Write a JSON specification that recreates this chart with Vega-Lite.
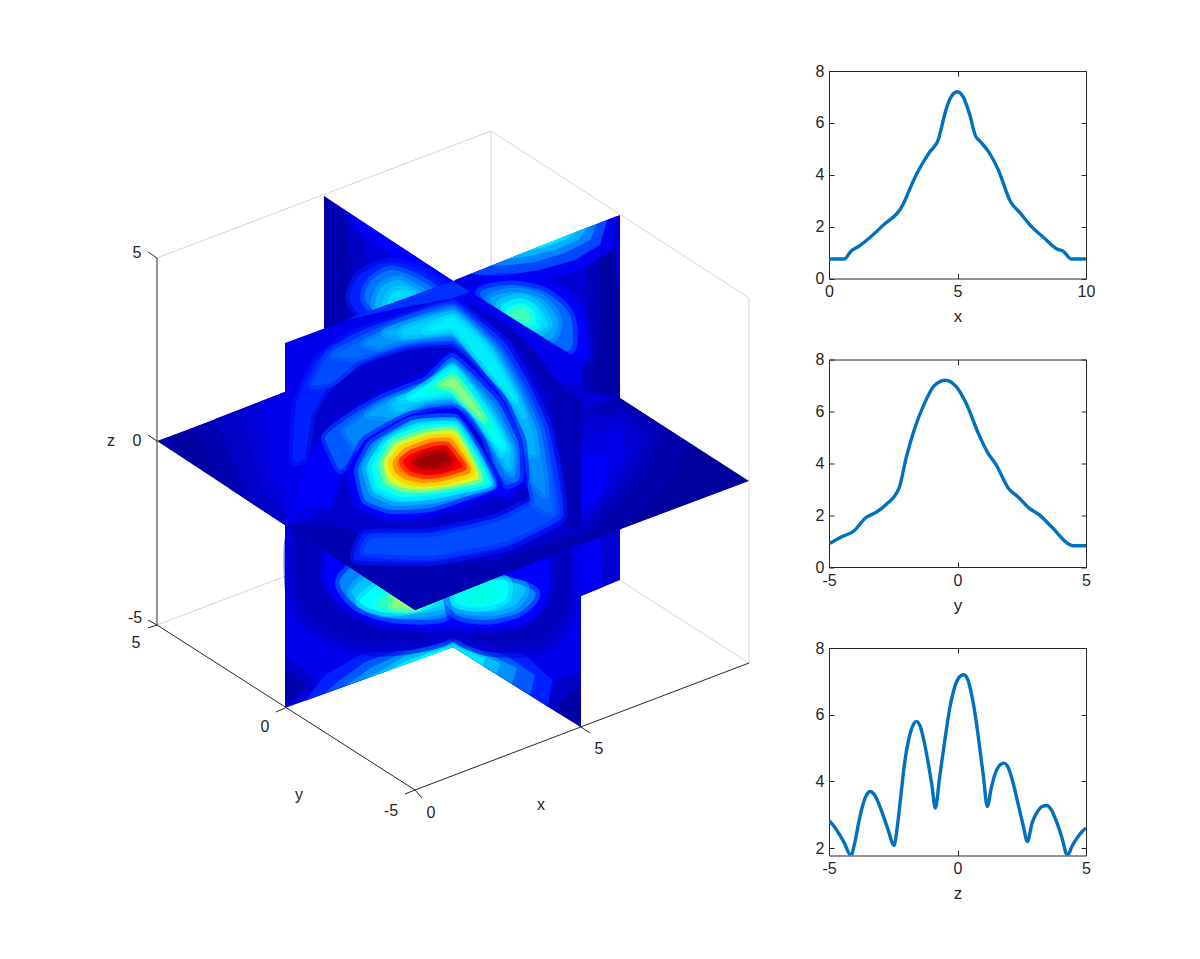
{
"$schema":"https://vega.github.io/schema/vega-lite/v6.json",
"background":"white",
"padding":{"left":0,"top":63,"right":0,"bottom":0},
"spacing":69,"bounds":"flush",
"config":{"view":{"stroke":null}},
"datasets":{
"frame":[
{"id":"g1","k":"g","u":[157,491],"v":[258,131]},
{"id":"g2","k":"g","u":[491,749],"v":[131,298]},
{"id":"g3","k":"g","u":[749,749],"v":[298,663]},
{"id":"g4","k":"g","u":[491,491],"v":[131,498]},
{"id":"g5","k":"g","u":[157,491],"v":[625,498]},
{"id":"g6","k":"g","u":[491,749],"v":[498,663]},
{"id":"a1","k":"a","u":[157,157],"v":[258,625]},
{"id":"a2","k":"a","u":[157,415],"v":[625,790]},
{"id":"a3","k":"a","u":[415,749],"v":[790,663]},
{"id":"t1","k":"a","u":[157,148],"v":[258,252]},
{"id":"t2","k":"a","u":[157,148],"v":[441,435]},
{"id":"t3","k":"a","u":[157,148],"v":[625,620]},
{"id":"t4","k":"a","u":[157,148],"v":[625,628]},
{"id":"t5","k":"a","u":[285,276],"v":[708,712]},
{"id":"t6","k":"a","u":[415,405],"v":[790,794]},
{"id":"t7","k":"a","u":[415,422],"v":[790,798]},
{"id":"t8","k":"a","u":[581,590],"v":[727,733]}
],
"labels":[
{"t":"5","u":137,"v":253},{"t":"0","u":137,"v":441},{"t":"-5","u":135,"v":618},
{"t":"5","u":136,"v":643},{"t":"0","u":265,"v":727},{"t":"-5","u":391,"v":811},
{"t":"0","u":431,"v":813},{"t":"5","u":599,"v":749},
{"t":"x","u":541,"v":805},{"t":"y","u":299,"v":795},{"t":"z","u":111,"v":441}
],
"shapes":[
{"id":"l1","g":1,"c":0.55,"u":[453,620,620,581,453],"v":[464,398,580,596,647]},
{"id":"l2","g":1,"c":0.8,"u":[581,600,603,581],"v":[530,530,587,596]},
{"id":"l3","g":1,"c":0.75,"u":[285,453,453,285],"v":[525,464,647,708]},
{"id":"l4","g":1,"c":0.75,"u":[453,581,581,453],"v":[464,544,727,647]},
{"id":"l5a","g":1,"c":0.5,"u":[285,318,305,285],"v":[655,682,697,708]},
{"id":"l5","g":1,"c":0.25,"u":[285,307,295,285],"v":[668,685,697,704]},
{"id":"l6a","g":1,"c":0.45,"u":[581,581,545,558],"v":[672,727,705,680]},
{"id":"l6","g":1,"c":0.2,"u":[581,581,555,568],"v":[688,727,711,695]},
{"id":"l7","g":1,"c":0.95,"u":[305,453,453,410,360,325],"v":[701,647,635,642,655,675]},
{"id":"l7b","g":1,"c":1.2,"u":[325,453,453,405,365,340],"v":[693,647,638,648,662,680]},
{"id":"l8","g":1,"c":1.6,"u":[345,453,453,405,372],"v":[686,647,641,652,667]},
{"id":"l9","g":1,"c":2.0,"u":[365,453,453,405,382],"v":[679,647,643,656,670]},
{"id":"l10","g":1,"c":2.4,"u":[385,453,453,410],"v":[672,647,645,659]},
{"id":"l10b","g":1,"c":2.8,"u":[410,453,425],"v":[663,647,655]},
{"id":"l11","g":1,"c":0.95,"u":[453,548,552,525,490,453],"v":[647,707,680,655,645,635]},
{"id":"l11b","g":1,"c":1.2,"u":[453,530,535,505,453],"v":[647,695,675,655,638]},
{"id":"l12","g":1,"c":1.6,"u":[453,512,517,490,453],"v":[647,684,668,655,641]},
{"id":"l13","g":1,"c":2.0,"u":[453,497,500,478,453],"v":[647,674,663,653,643]},
{"id":"l14","g":1,"c":2.4,"u":[453,483,485,453],"v":[647,666,658,645]},
{"id":"d0","g":2,"c":0.55,"u":[290,292,322,370,420,453,453,420,375,340,322,318],"v":[535,605,638,652,648,636,606,616,620,606,580,530]},
{"id":"d0b","g":2,"c":0.55,"u":[453,490,530,552,562,570,572,545,490,453],"v":[606,626,616,596,555,540,615,650,652,636]},
{"id":"d1","g":2,"c":0.38,"u":[296,300,328,372,420,453,453,420,375,340,322,312],"v":[535,600,628,642,638,628,612,622,625,612,585,530]},
{"id":"d2","g":2,"c":0.38,"u":[453,490,525,545,555,567,565,540,490,453],"v":[612,632,622,600,560,540,610,640,642,628]},
{"id":"b1","g":2,"c":0.9,"u":[325,340,375,420,453,453,360],"v":[570,600,622,628,622,560,540]},
{"id":"b2","g":2,"c":1.5,"u":[340,355,385,425,453,453,380],"v":[580,605,617,620,612,570,550]},
{"id":"b3","g":2,"c":2.1,"u":[352,368,395,430,453,453,390],"v":[590,608,614,612,605,580,565]},
{"id":"b4","g":2,"c":2.7,"u":[360,380,405,430,445,400],"v":[600,611,611,604,595,575]},
{"id":"b5","g":2,"c":3.3,"u":[378,395,415,430,400],"v":[605,609,608,600,585]},
{"id":"b6","g":2,"c":3.8,"u":[392,405,418,420,400],"v":[605,608,607,598,590]},
{"id":"c1","g":2,"c":0.9,"u":[453,480,525,548,540,453],"v":[622,628,622,595,560,560]},
{"id":"c2","g":2,"c":1.5,"u":[453,485,520,533,453],"v":[612,620,612,590,570]},
{"id":"c3","g":2,"c":2.1,"u":[453,485,515,522,453],"v":[606,612,605,585,580]},
{"id":"c4","g":2,"c":2.7,"u":[456,480,505,505,460],"v":[603,607,600,580,585]},
{"id":"c5","g":2,"c":3.0,"u":[465,480,495,485],"v":[600,603,595,582]},
{"id":"z1","g":3,"c":0.15,"u":[157,324,453,285],"v":[441,379,461,525]},
{"id":"z1b","g":3,"c":0.3,"u":[190,285,285,230],"v":[429,392,525,489]},
{"id":"z2","g":3,"c":0.45,"u":[215,285,285,250],"v":[419,392,525,502]},
{"id":"z3","g":3,"c":0.6,"u":[240,285,285,262],"v":[410,392,515,490]},
{"id":"z3b","g":3,"c":0.72,"u":[262,285,285,272],"v":[401,392,500,480]},
{"id":"z4","g":3,"c":0.1,"u":[453,620,749,581],"v":[461,398,481,544]},
{"id":"z5","g":3,"c":0.25,"u":[581,620,690,665,620,581],"v":[400,398,444,490,530,544]},
{"id":"z5b","g":3,"c":0.4,"u":[581,622,662,645,615,581],"v":[410,405,430,470,505,540]},
{"id":"z6","g":3,"c":0.55,"u":[581,625,645,628,600,581],"v":[420,412,440,475,510,530]},
{"id":"z6b","g":3,"c":0.7,"u":[581,618,628,610,590,581],"v":[440,425,450,485,515,520]},
{"id":"z7","g":3,"c":0.85,"u":[581,610,605,590,581],"v":[455,455,490,507,512]},
{"id":"A0","g":3,"c":0.6,"u":[324,453,453,324],"v":[196,281,340,379]},
{"id":"A1b","g":3,"c":0.42,"u":[324,360,368,360,324],"v":[196,225,265,322,329]},
{"id":"A1","g":3,"c":0.25,"u":[324,343,350,345,324],"v":[196,212,260,322,329]},
{"id":"A2b","g":3,"c":0.75,"u":[345,453,440,410,380,355],"v":[211,281,292,265,250,232]},
{"id":"A2","g":3,"c":0.9,"u":[362,453,425,395,372],"v":[222,281,282,258,238]},
{"id":"B0","g":3,"c":0.55,"u":[453,620,620,453],"v":[281,215,398,464]},
{"id":"B1b","g":3,"c":0.38,"u":[585,612,620,620,570,588],"v":[245,225,300,398,385,330]},
{"id":"B1","g":3,"c":0.2,"u":[598,612,618,620,590,600],"v":[240,232,300,398,390,330]},
{"id":"B2","g":3,"c":0.8,"u":[455,617,612,585,545,500],"v":[280,216,250,268,280,285]},
{"id":"B2b","g":3,"c":1.1,"u":[470,607,600,575,540,500],"v":[274,220,245,260,270,276]},
{"id":"B3","g":3,"c":1.5,"u":[490,597,590,565,535,510],"v":[266,224,240,253,262,265]},
{"id":"B3b","g":3,"c":1.9,"u":[505,588,578,555,530],"v":[260,227,240,250,256]},
{"id":"B4","g":3,"c":2.3,"u":[520,578,565,545],"v":[254,231,240,247]},
{"id":"B5","g":3,"c":2.7,"u":[535,568,552],"v":[248,235,243]},
{"id":"e1","g":4,"c":0.95,"u":[350,360,390,425,445,420,370],"v":[300,275,262,272,290,310,320]},
{"id":"e2","g":4,"c":1.4,"u":[365,372,392,420,435,390],"v":[300,280,270,280,295,320]},
{"id":"e3","g":4,"c":1.9,"u":[375,382,398,415,425,390],"v":[305,287,280,288,298,315]},
{"id":"e4","g":4,"c":2.3,"u":[385,392,405,415,395],"v":[310,293,290,300,310]},
{"id":"f1","g":4,"c":0.9,"u":[468,500,550,580,585,540,480],"v":[290,278,284,310,360,340,300]},
{"id":"f2","g":4,"c":1.3,"u":[480,510,545,570,570,530],"v":[295,285,292,315,350,340]},
{"id":"f3","g":4,"c":1.8,"u":[490,515,542,558,550,520],"v":[300,292,299,320,340,330]},
{"id":"f4","g":4,"c":2.3,"u":[500,520,538,548,530,510],"v":[305,298,306,325,335,325]},
{"id":"f5","g":4,"c":2.8,"u":[505,522,535,535,520],"v":[310,303,312,325,325]},
{"id":"f6","g":4,"c":3.4,"u":[510,522,530,525],"v":[314,309,317,322]},
{"id":"H0","g":5,"c":0.75,"u":[285,453,581,581,415,285],"v":[343,281,361,544,610,525]},
{"id":"H1b","g":5,"c":0.5,"u":[285,330,415,500,581,581,415],"v":[525,512,550,545,515,544,610]},
{"id":"H1","g":5,"c":0.3,"u":[285,345,415,497,581,581,415],"v":[525,527,567,560,532,544,610]},
{"id":"H2b","g":5,"c":0.55,"u":[465,515,550,581,581,550,545,530,500],"v":[300,330,380,385,525,535,450,395,345]},
{"id":"H2","g":5,"c":0.35,"u":[485,530,565,581,581,566,560,548,520],"v":[310,345,390,400,525,530,450,395,350]},
{"id":"H3","g":5,"c":1.0,"u":[345,453,470,453,400],"v":[320,281,292,298,308]},
{"id":"D1","g":6,"c":0.5,"u":[300,305,325,365,410,453,500,525,533,490,430,370,330],"v":[500,440,395,365,350,335,385,440,495,520,530,530,520]},
{"id":"R1","g":6,"c":0.95,"u":[293,296,315,350,400,453,505,530,548,558,563,505,430,355,365,430,495,533,525,515,498,476,453,405,360,330,312,305],"v":[460,405,362,335,318,302,342,385,425,470,518,548,562,560,533,532,518,498,470,430,397,365,344,347,362,385,415,458]},
{"id":"R1b","g":6,"c":1.12,"u":[312,330,368,402,453,501,526,544,553,558,505,432,365,372,432,497,534,527,518,501,479,453,405,360,333],"v":[385,352,332,320,305,345,387,427,470,515,542,556,553,538,537,522,502,470,429,396,364,341,345,360,382]},
{"id":"R2","g":6,"c":1.3,"u":[335,400,453,497,522,540,548,552,535,530,522,505,482,453,405,355],"v":[355,322,308,347,388,428,470,512,505,470,428,395,362,338,342,358]},
{"id":"R2b","g":6,"c":1.6,"u":[365,402,453,495,519,537,543,545,532,526,516,494,468,453,405,380],"v":[343,326,310,348,389,430,468,495,480,450,413,378,348,336,340,348]},
{"id":"R3","g":6,"c":1.9,"u":[385,453,493,516,533,535,524,510,478,453,405],"v":[332,313,350,390,432,455,450,398,358,333,338]},
{"id":"R3b","g":6,"c":2.2,"u":[405,453,490,512,524,510,478,453,405],"v":[329,315,350,388,415,395,356,331,336]},
{"id":"R4","g":6,"c":2.5,"u":[425,453,488,508,515,500,476,453],"v":[331,318,350,385,400,385,355,329]},
{"id":"S1","g":6,"c":0.9,"u":[298,305,335,380,425,453,500,522,525,507,495,497,480,452,430,395,360,338,330],"v":[505,465,425,395,375,352,395,440,480,495,490,465,430,410,413,428,452,480,505]},
{"id":"S1b","g":6,"c":1.2,"u":[325,352,382,427,453,497,518,520,506,494,485,460,427,392,359,340],"v":[437,415,398,380,357,400,442,478,485,465,437,405,408,424,449,470]},
{"id":"S2","g":6,"c":1.5,"u":[345,385,428,453,495,515,515,505,490,470,452,425,390,358],"v":[430,402,384,362,405,445,478,475,440,412,402,405,422,448]},
{"id":"S2b","g":6,"c":1.8,"u":[368,390,429,453,492,512,512,501,484,462,425,395],"v":[415,402,386,365,407,447,472,460,428,400,402,417]},
{"id":"S3","g":6,"c":2.1,"u":[392,430,453,490,510,508,497,477,452,425,400],"v":[403,387,367,410,450,468,445,415,397,400,412]},
{"id":"S3b","g":6,"c":2.4,"u":[400,430,453,488,507,500,475,452,425],"v":[400,388,368,412,448,453,412,395,398]},
{"id":"S4","g":6,"c":2.7,"u":[410,453,487,503,492,472,452,425],"v":[397,370,415,445,437,410,393,396]},
{"id":"S5","g":6,"c":3.2,"u":[430,453,482,494,470,452],"v":[390,375,413,433,405,390]},
{"id":"S6","g":6,"c":3.8,"u":[440,454,475,484,465,452],"v":[385,378,405,420,402,388]},
{"id":"W1","g":6,"c":0.9,"u":[365,410,455,478,497,497,470,430,385,356,350],"v":[440,415,413,445,480,491,502,515,518,505,470]},
{"id":"W2","g":6,"c":1.5,"u":[372,412,455,478,494,465,430,390,365,358],"v":[443,420,418,450,485,497,508,510,500,470]},
{"id":"W3","g":6,"c":2.2,"u":[380,415,456,476,492,462,430,395,373,366],"v":[445,424,422,452,485,493,500,502,492,467]},
{"id":"W4","g":6,"c":2.7,"u":[388,420,456,476,489,455,425,400,377,372],"v":[440,426,425,455,483,491,496,497,487,465]},
{"id":"W5","g":6,"c":3.3,"u":[392,424,455,474,484,450,425,402,383,379],"v":[441,429,429,458,481,488,492,492,485,465]},
{"id":"W6","g":6,"c":4.0,"u":[395,426,454,470,479,445,422,402,388,383],"v":[444,433,431,458,479,486,489,488,481,463]},
{"id":"W7","g":6,"c":4.6,"u":[400,428,453,468,475,445,422,403,391,388],"v":[446,436,434,458,476,484,486,484,476,463]},
{"id":"W8","g":6,"c":5.2,"u":[403,430,451,465,471,443,422,405,395,392],"v":[449,439,438,458,473,481,483,480,473,463]},
{"id":"W9","g":6,"c":5.8,"u":[408,432,449,461,467,442,423,408,399,397],"v":[451,442,442,458,470,477,479,476,470,462]},
{"id":"W10","g":6,"c":6.3,"u":[413,434,447,457,463,441,424,412,405,403],"v":[453,446,446,458,467,474,475,472,466,460]},
{"id":"W11","g":6,"c":6.7,"u":[425,445,453,451,435,420,412],"v":[453,450,460,466,470,469,463]},
{"id":"W12","g":6,"c":7.0,"u":[428,443,448,435,422,418],"v":[456,453,460,465,465,460]}
]
},
"hconcat":[
{
"width":760,"height":784,
"layer":[
{"data":{"name":"frame"},"transform":[{"filter":"datum.k=='g'"},{"flatten":["u","v"]}],
 "mark":{"type":"line","stroke":"#d6d6d6","strokeWidth":1,"clip":false},
 "encoding":{"x":{"field":"u","type":"quantitative","scale":{"domain":[0,760],"nice":false,"zero":false},"axis":null},"y":{"field":"v","type":"quantitative","scale":{"domain":[855,71],"nice":false,"zero":false},"axis":null},"detail":{"field":"id"},"order":{"value":null}}},
{"data":{"name":"shapes"},"transform":[{"filter":"datum.g==1"},{"flatten":["u","v"]}],
 "mark":{"type":"line","filled":true,"interpolate":"linear-closed","strokeWidth":0},
 "encoding":{"x":{"field":"u","type":"quantitative","axis":null},"y":{"field":"v","type":"quantitative","axis":null},"detail":{"field":"id"},"order":{"value":null},
  "fill":{"field":"c","type":"quantitative","legend":null,"scale":{"domain":[0,0.9,2.7,4.5,6.3,7.2],"range":["#00008f","#0000ff","#00ffff","#ffff00","#ff0000","#800000"]}}}},
{"data":{"name":"shapes"},"transform":[{"filter":"datum.g==2"},{"flatten":["u","v"]}],
 "mark":{"type":"line","filled":true,"interpolate":"cardinal-closed","tension":0.2,"strokeWidth":9,"strokeOpacity":0.5},
 "encoding":{"x":{"field":"u","type":"quantitative","axis":null},"y":{"field":"v","type":"quantitative","axis":null},"detail":{"field":"id"},"order":{"value":null},
  "fill":{"field":"c","type":"quantitative","legend":null},
  "stroke":{"field":"c","type":"quantitative","legend":null,"scale":{"domain":[0,0.9,2.7,4.5,6.3,7.2],"range":["#00008f","#0000ff","#00ffff","#ffff00","#ff0000","#800000"]}}}},
{"data":{"name":"shapes"},"transform":[{"filter":"datum.g==3"},{"flatten":["u","v"]}],
 "mark":{"type":"line","filled":true,"interpolate":"linear-closed","strokeWidth":0},
 "encoding":{"x":{"field":"u","type":"quantitative","axis":null},"y":{"field":"v","type":"quantitative","axis":null},"detail":{"field":"id"},"order":{"value":null},
  "fill":{"field":"c","type":"quantitative","legend":null}}},
{"data":{"name":"shapes"},"transform":[{"filter":"datum.g==4"},{"flatten":["u","v"]}],
 "mark":{"type":"line","filled":true,"interpolate":"cardinal-closed","tension":0.2,"strokeWidth":9,"strokeOpacity":0.5},
 "encoding":{"x":{"field":"u","type":"quantitative","axis":null},"y":{"field":"v","type":"quantitative","axis":null},"detail":{"field":"id"},"order":{"value":null},
  "fill":{"field":"c","type":"quantitative","legend":null},
  "stroke":{"field":"c","type":"quantitative","legend":null}}},
{"data":{"name":"shapes"},"transform":[{"filter":"datum.g==5"},{"flatten":["u","v"]}],
 "mark":{"type":"line","filled":true,"interpolate":"linear-closed","strokeWidth":0},
 "encoding":{"x":{"field":"u","type":"quantitative","axis":null},"y":{"field":"v","type":"quantitative","axis":null},"detail":{"field":"id"},"order":{"value":null},
  "fill":{"field":"c","type":"quantitative","legend":null}}},
{"data":{"name":"shapes"},"transform":[{"filter":"datum.g==6"},{"flatten":["u","v"]}],
 "mark":{"type":"line","filled":true,"interpolate":"cardinal-closed","tension":0.6,"strokeWidth":8,"strokeOpacity":0.5},
 "encoding":{"x":{"field":"u","type":"quantitative","axis":null},"y":{"field":"v","type":"quantitative","axis":null},"detail":{"field":"id"},"order":{"value":null},
  "fill":{"field":"c","type":"quantitative","legend":null},
  "stroke":{"field":"c","type":"quantitative","legend":null}}},
{"data":{"name":"frame"},"transform":[{"filter":"datum.k=='a'"},{"flatten":["u","v"]}],
 "mark":{"type":"line","stroke":"#262626","strokeWidth":1},
 "encoding":{"x":{"field":"u","type":"quantitative","axis":null},"y":{"field":"v","type":"quantitative","axis":null},"detail":{"field":"id"},"order":{"value":null}}},
{"data":{"name":"labels"},
 "mark":{"type":"text","font":"Liberation Sans","fontSize":16,"color":"#262626","align":"center","baseline":"middle"},
 "encoding":{"x":{"field":"u","type":"quantitative","axis":null},"y":{"field":"v","type":"quantitative","axis":null},"text":{"field":"t"}}}
]
},
{
"vconcat":[
{"width":257,"height":207.5,
 "data":{"values":[{"a":0,"b":0.75},{"a":0.59,"b":0.75},{"a":0.85,"b":1.05},{"a":1.17,"b":1.25},{"a":2.08,"b":2.03},{"a":2.93,"b":2.95},{"a":3.12,"b":3.4},{"a":3.5,"b":4.2},{"a":3.9,"b":4.85},{"a":4.27,"b":5.4},{"a":4.36,"b":5.75},{"a":4.55,"b":6.5},{"a":4.75,"b":7.0},{"a":5.0,"b":7.2},{"a":5.22,"b":7.0},{"a":5.48,"b":6.3},{"a":5.7,"b":5.5},{"a":5.87,"b":5.3},{"a":6.2,"b":4.9},{"a":6.58,"b":4.2},{"a":7.07,"b":2.95},{"a":7.42,"b":2.55},{"a":7.88,"b":2.0},{"a":8.33,"b":1.6},{"a":8.85,"b":1.15},{"a":9.11,"b":1.05},{"a":9.44,"b":0.75},{"a":10,"b":0.75}]},
 "resolve":{"axis":{"x":"independent","y":"independent"}},
 "layer":[
 {"mark":{"type":"line","color":"#0072BD","strokeWidth":3.4,"interpolate":"monotone","clip":true},
  "encoding":{"x":{"field":"a","type":"quantitative","scale":{"domain":[0,10],"nice":false,"zero":false},"axis":{"orient":"bottom","values":[0,5,10],"title":"x","grid":false,"tickSize":-5,"labelOverlap":false,"labelFlush":false,"domainColor":"#262626","tickColor":"#262626","labelColor":"#262626","titleColor":"#262626","labelFont":"Liberation Sans","labelFontSize":16,"titleFont":"Liberation Sans","titleFontSize":17,"titleFontWeight":"normal","labelPadding":10,"titlePadding":9}},
  "y":{"field":"b","type":"quantitative","scale":{"domain":[0,8],"nice":false,"zero":false},"axis":{"orient":"left","values":[0,2,4,6,8],"title":null,"grid":false,"tickSize":-5,"domainColor":"#262626","tickColor":"#262626","labelColor":"#262626","labelFont":"Liberation Sans","labelFontSize":16,"labelPadding":10,"labelOverlap":false,"labelFlush":false}}}},
 {"mark":{"type":"line","opacity":0},
  "encoding":{"x":{"field":"a","type":"quantitative","axis":{"orient":"top","values":[0,5,10],"title":null,"labels":false,"grid":false,"tickSize":-5,"domainColor":"#262626","tickColor":"#262626"}},
  "y":{"field":"b","type":"quantitative","axis":{"orient":"right","values":[0,2,4,6,8],"title":null,"labels":false,"grid":false,"tickSize":-5,"domainColor":"#262626","tickColor":"#262626"}}}}
 ]},
{"width":257,"height":207.5,
 "data":{"values":[{"a":-5,"b":0.9},{"a":-4.54,"b":1.15},{"a":-4.02,"b":1.4},{"a":-3.57,"b":1.9},{"a":-3.18,"b":2.1},{"a":-2.79,"b":2.4},{"a":-2.27,"b":3.05},{"a":-2.0,"b":4.2},{"a":-1.68,"b":5.3},{"a":-1.29,"b":6.3},{"a":-0.9,"b":7.0},{"a":-0.47,"b":7.2},{"a":-0.05,"b":6.95},{"a":0.34,"b":6.3},{"a":0.79,"b":5.2},{"a":1.18,"b":4.4},{"a":1.5,"b":3.95},{"a":1.97,"b":3.05},{"a":2.36,"b":2.7},{"a":2.75,"b":2.3},{"a":3.2,"b":2.0},{"a":3.66,"b":1.55},{"a":4.5,"b":0.82},{"a":5,"b":0.82}]},
 "resolve":{"axis":{"x":"independent","y":"independent"}},
 "layer":[
 {"mark":{"type":"line","color":"#0072BD","strokeWidth":3.4,"interpolate":"monotone","clip":true},
  "encoding":{"x":{"field":"a","type":"quantitative","scale":{"domain":[-5,5],"nice":false,"zero":false},"axis":{"orient":"bottom","values":[-5,0,5],"labelExpr":"datum.value+''","title":"y","grid":false,"tickSize":-5,"labelOverlap":false,"labelFlush":false,"domainColor":"#262626","tickColor":"#262626","labelColor":"#262626","titleColor":"#262626","labelFont":"Liberation Sans","labelFontSize":16,"titleFont":"Liberation Sans","titleFontSize":17,"titleFontWeight":"normal","labelPadding":10,"titlePadding":9}},
  "y":{"field":"b","type":"quantitative","scale":{"domain":[0,8],"nice":false,"zero":false},"axis":{"orient":"left","values":[0,2,4,6,8],"title":null,"grid":false,"tickSize":-5,"domainColor":"#262626","tickColor":"#262626","labelColor":"#262626","labelFont":"Liberation Sans","labelFontSize":16,"labelPadding":10,"labelOverlap":false,"labelFlush":false}}}},
 {"mark":{"type":"line","opacity":0},
  "encoding":{"x":{"field":"a","type":"quantitative","axis":{"orient":"top","values":[-5,0,5],"title":null,"labels":false,"grid":false,"tickSize":-5,"domainColor":"#262626","tickColor":"#262626"}},
  "y":{"field":"b","type":"quantitative","axis":{"orient":"right","values":[0,2,4,6,8],"title":null,"labels":false,"grid":false,"tickSize":-5,"domainColor":"#262626","tickColor":"#262626"}}}}
 ]},
{"width":257,"height":207.5,
 "data":{"values":[{"a":-5,"b":2.82},{"a":-4.8,"b":2.65},{"a":-4.6,"b":2.42},{"a":-4.4,"b":2.15},{"a":-4.15,"b":1.78},{"a":-4.0,"b":2.15},{"a":-3.85,"b":2.75},{"a":-3.7,"b":3.25},{"a":-3.55,"b":3.58},{"a":-3.4,"b":3.7},{"a":-3.25,"b":3.62},{"a":-3.1,"b":3.4},{"a":-2.9,"b":3.0},{"a":-2.7,"b":2.55},{"a":-2.47,"b":2.08},{"a":-2.35,"b":2.6},{"a":-2.2,"b":3.6},{"a":-2.05,"b":4.6},{"a":-1.9,"b":5.25},{"a":-1.75,"b":5.65},{"a":-1.6,"b":5.8},{"a":-1.45,"b":5.65},{"a":-1.3,"b":5.2},{"a":-1.15,"b":4.6},{"a":-1.0,"b":3.9},{"a":-0.86,"b":3.2},{"a":-0.7,"b":4.1},{"a":-0.5,"b":5.2},{"a":-0.3,"b":6.2},{"a":-0.1,"b":6.85},{"a":0.1,"b":7.15},{"a":0.25,"b":7.2},{"a":0.4,"b":7.05},{"a":0.55,"b":6.6},{"a":0.7,"b":5.95},{"a":0.85,"b":5.1},{"a":1.0,"b":4.2},{"a":1.16,"b":3.25},{"a":1.3,"b":3.75},{"a":1.45,"b":4.2},{"a":1.6,"b":4.45},{"a":1.8,"b":4.55},{"a":1.95,"b":4.45},{"a":2.15,"b":4.0},{"a":2.35,"b":3.35},{"a":2.55,"b":2.7},{"a":2.72,"b":2.2},{"a":2.9,"b":2.75},{"a":3.1,"b":3.08},{"a":3.3,"b":3.25},{"a":3.48,"b":3.28},{"a":3.65,"b":3.15},{"a":3.85,"b":2.8},{"a":4.05,"b":2.35},{"a":4.28,"b":1.78},{"a":4.45,"b":2.05},{"a":4.65,"b":2.3},{"a":4.85,"b":2.5},{"a":5,"b":2.6}]},
 "resolve":{"axis":{"x":"independent","y":"independent"}},
 "layer":[
 {"mark":{"type":"line","color":"#0072BD","strokeWidth":3.4,"interpolate":"monotone","clip":true},
  "encoding":{"x":{"field":"a","type":"quantitative","scale":{"domain":[-5,5],"nice":false,"zero":false},"axis":{"orient":"bottom","values":[-5,0,5],"labelExpr":"datum.value+''","title":"z","grid":false,"tickSize":-5,"labelOverlap":false,"labelFlush":false,"domainColor":"#262626","tickColor":"#262626","labelColor":"#262626","titleColor":"#262626","labelFont":"Liberation Sans","labelFontSize":16,"titleFont":"Liberation Sans","titleFontSize":17,"titleFontWeight":"normal","labelPadding":10,"titlePadding":9}},
  "y":{"field":"b","type":"quantitative","scale":{"domain":[1.78,8],"nice":false,"zero":false},"axis":{"orient":"left","values":[2,4,6,8],"title":null,"grid":false,"tickSize":-5,"domainColor":"#262626","tickColor":"#262626","labelColor":"#262626","labelFont":"Liberation Sans","labelFontSize":16,"labelPadding":10,"labelOverlap":false,"labelFlush":false}}}},
 {"mark":{"type":"line","opacity":0},
  "encoding":{"x":{"field":"a","type":"quantitative","axis":{"orient":"top","values":[-5,0,5],"title":null,"labels":false,"grid":false,"tickSize":-5,"domainColor":"#262626","tickColor":"#262626"}},
  "y":{"field":"b","type":"quantitative","axis":{"orient":"right","values":[2,4,6,8],"title":null,"labels":false,"grid":false,"tickSize":-5,"domainColor":"#262626","tickColor":"#262626"}}}}
 ]}
],
"spacing":80.5,"bounds":"flush"
}
]
}
